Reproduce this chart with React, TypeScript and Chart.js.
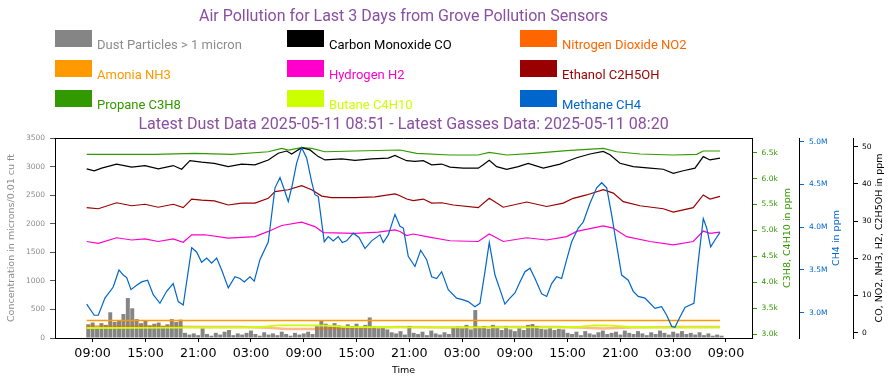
import React, { useEffect, useRef } from "react";
import { Chart, registerables } from "chart.js";

Chart.register(...registerables);

// ---------- tick values ----------
const timeTicks = [9, 15, 21, 27, 33, 39, 45, 51, 57, 63, 69, 75, 81]; // hours since 2025-05-08 00:00
const dustTicks = [0, 500, 1000, 1500, 2000, 2500, 3000, 3500];
const propaneTicks = [3000, 3500, 4000, 4500, 5000, 5500, 6000, 6500];
const methaneTicks = [3.0, 3.5, 4.0, 4.5, 5.0];
const ppmTicks = [0, 10, 20, 30, 40, 50];

// ---------- dust (30-minute bars starting 08:30 on day 1) ----------
const dustStartHour = 8.5;
const dustStepHours = 0.5;
const dustValues = [
  240, 270, 200, 260, 230, 450, 280, 310, 420, 700, 520, 330,
  260, 300, 220, 250, 270, 210, 240, 330, 280, 320, 90, 60,
  80, 50, 170, 70, 40, 90, 60, 110, 140, 50, 80, 60,
  90, 130, 70, 40, 100, 60, 80, 50, 110, 70, 40, 90,
  60, 80, 110, 70, 230, 300, 250, 200, 260, 220, 180, 240,
  210, 250, 190, 230, 360, 200, 170, 190, 150, 100, 80, 120,
  60, 210, 90, 70, 110, 50, 130, 80, 60, 100, 70, 180,
  200, 170, 230, 150, 490, 190, 210, 160, 230, 180, 140, 200,
  150, 120, 170, 140, 230, 245, 210, 160, 150, 170, 140, 160,
  150, 90, 70, 110, 50, 120, 80, 60, 100, 130, 70, 90,
  110, 60, 130, 90, 70, 120, 80, 50, 100, 70, 130, 90,
  60, 110, 80, 120, 70, 90, 60, 100, 50, 80, 40, 60,
  40,
];

// ---------- Carbon Monoxide CO (ppm) ----------
const coTimes = [8.32, 9.18, 10.02, 11.73, 13.44, 14.95, 16.46, 18.16, 19.12, 20.06, 21.39, 22.83, 24.42, 25.94, 27.45, 28.97, 30.1, 31.06, 31.62, 32.76, 33.71, 34.65, 35.41, 37.31, 38.82, 40.72, 42.61, 43.37, 43.94, 44.7, 45.64, 46.59, 47.54, 48.68, 49.62, 51.13, 52.84, 53.41, 54.09, 54.93, 56.07, 57.39, 58.52, 60.23, 62.13, 62.89, 64.03, 65.54, 67.05, 67.81, 68.95, 70.46, 72.36, 73.87, 75.01, 76.15, 77.48, 78.42, 79.18, 80.32];
const coValues = [44.0, 43.5, 44.2, 45.3, 44.5, 44.9, 44.0, 44.9, 43.9, 46.2, 45.8, 45.5, 44.6, 45.3, 45.1, 46.4, 48.2, 48.8, 48.0, 49.7, 49.1, 47.3, 46.4, 46.7, 46.3, 46.7, 46.9, 47.6, 47.0, 46.2, 46.0, 46.2, 45.1, 45.3, 44.5, 44.2, 44.2, 45.1, 46.3, 44.6, 43.9, 44.6, 45.5, 44.2, 45.3, 46.0, 47.0, 48.0, 48.7, 47.8, 45.5, 44.6, 44.2, 43.9, 42.8, 43.5, 44.2, 47.3, 46.4, 46.9];

// ---------- Nitrogen Dioxide NO2 (ppm) ----------
const no2Times = [8.32, 14, 19, 22, 26, 29, 31, 34, 37, 41, 44, 50, 56, 62, 65, 67, 70, 75, 80.32];
const no2Values = [1.7, 1.7, 1.6, 1.5, 1.5, 1.3, 1.0, 1.0, 1.2, 1.4, 1.5, 1.4, 1.5, 1.5, 1.3, 1.1, 1.4, 1.5, 1.5];

// ---------- Amonia NH3 (ppm) ----------
const nh3Times = [8.32, 20, 32, 44, 56, 68, 80.32];
const nh3Values = [3.3, 3.3, 3.3, 3.3, 3.3, 3.3, 3.3];

// ---------- Hydrogen H2 (ppm) ----------
const h2Times = [8.32, 9.64, 11.73, 13.44, 14.95, 16.46, 18.16, 19.3, 20.26, 21.77, 24.42, 27.45, 28.97, 30.49, 32.76, 34.27, 35.22, 38.82, 41.48, 43.37, 43.94, 44.7, 45.45, 46.97, 49.62, 52.84, 54.09, 55.68, 58.34, 60.62, 62.89, 64.03, 67.05, 68.19, 69.71, 72.36, 75.01, 77.28, 78.42, 79.18, 80.32];
const h2Values = [24.5, 24.0, 25.5, 24.9, 25.2, 24.5, 25.2, 24.3, 26.3, 26.3, 25.4, 25.8, 27.2, 28.8, 29.7, 28.5, 26.9, 26.7, 27.0, 27.6, 27.2, 26.1, 26.5, 25.8, 24.7, 24.5, 26.5, 24.5, 25.5, 24.9, 25.8, 27.2, 28.7, 28.1, 25.8, 24.5, 23.6, 24.5, 27.3, 26.7, 27.0];

// ---------- Ethanol C2H5OH (ppm) ----------
const ethanolTimes = [8.32, 9.64, 11.73, 13.44, 14.95, 16.46, 18.16, 19.3, 20.26, 21.39, 22.83, 24.42, 25.94, 27.45, 28.97, 29.73, 31.24, 32.76, 33.9, 35.04, 36.17, 38.82, 41.1, 43.37, 43.94, 44.7, 45.45, 46.59, 47.54, 48.68, 50.0, 52.84, 54.09, 55.68, 58.34, 60.62, 62.5, 63.64, 65.16, 67.05, 68.19, 69.32, 71.22, 73.87, 75.01, 77.28, 78.42, 79.18, 80.32];
const ethanolValues = [33.6, 33.3, 34.9, 34.1, 34.5, 33.7, 34.5, 33.6, 35.9, 35.6, 35.4, 34.3, 34.8, 34.8, 36.1, 37.9, 38.4, 39.5, 38.4, 36.7, 36.3, 36.3, 36.5, 37.3, 36.8, 35.9, 35.5, 35.9, 34.8, 34.9, 34.3, 33.6, 36.1, 33.7, 35.1, 33.9, 34.8, 36.1, 37.0, 38.4, 37.5, 35.2, 34.1, 33.3, 32.4, 33.6, 37.0, 35.9, 36.6];

// ---------- Propane C3H8 (ppm) ----------
const propaneTimes = [8.32, 12.3, 16.09, 20.63, 24.8, 28.97, 30.49, 31.24, 32.76, 33.9, 35.41, 38.82, 43.94, 45.83, 49.62, 52.84, 54.09, 56.07, 59.09, 62.89, 67.05, 68.57, 71.22, 75.01, 77.67, 78.42, 80.32];
const propaneValues = [6469, 6469, 6469, 6488, 6469, 6519, 6585, 6552, 6597, 6585, 6519, 6533, 6552, 6488, 6456, 6456, 6508, 6456, 6488, 6539, 6585, 6519, 6475, 6456, 6469, 6533, 6533];

// ---------- Butane C4H10 (ppm) ----------
const butaneTimes = [8.32, 14, 20, 26, 28.5, 30, 33, 35.5, 38, 44, 50, 56, 62, 64.5, 66, 68, 70, 74, 80.32];
const butaneValues = [3116, 3120, 3122, 3125, 3140, 3165, 3168, 3160, 3135, 3129, 3129, 3129, 3129, 3140, 3165, 3162, 3135, 3125, 3129];

// ---------- Methane CH4 (millions of ppm) ----------
const methaneTimes = [
  8.32, 9.18, 9.64, 10.4, 11.34, 11.99, 12.48, 12.87, 13.36, 14.0,
  14.57, 15.25, 15.89, 16.65, 17.41, 18.16, 18.73, 19.3, 20.26, 20.82,
  21.39, 21.96, 22.53, 23.1, 23.67, 24.42, 25.18, 25.75, 26.24, 26.88,
  27.37, 28.02, 28.97, 29.73, 30.3, 30.78, 31.24, 31.69, 32.19, 32.76,
  33.33, 33.9, 34.27, 34.65, 35.33, 35.79, 36.35, 36.92, 37.38, 37.88,
  38.63, 39.28, 39.96, 40.72, 41.66, 42.04, 42.61, 43.37, 43.94, 44.32,
  44.88, 45.64, 46.29, 46.97, 47.54, 48.11, 48.68, 49.43, 50.38, 51.13,
  51.7, 52.46, 53.03, 53.6, 54.09, 54.74, 55.31, 55.87, 56.44, 57.01,
  57.58, 58.15, 58.72, 59.29, 60.05, 60.62, 61.18, 61.75, 62.32, 62.89,
  63.46, 64.21, 64.78, 65.54, 66.3, 66.87, 67.44, 68.01, 68.57, 69.14,
  69.89, 70.46, 71.03, 71.79, 72.36, 72.93, 73.69, 74.26, 74.83, 75.2,
  75.77, 76.34, 76.91, 77.36, 77.85, 78.42, 78.81, 79.26, 79.75, 80.32,
];
const methaneValues = [
  3.1, 2.97, 2.97, 3.17, 3.3, 3.5, 3.44, 3.41, 3.27, 3.32,
  3.36, 3.38, 3.21, 3.11, 3.25, 3.34, 3.13, 3.09, 3.76, 3.71,
  3.59, 3.64, 3.58, 3.64, 3.5, 3.29, 3.42, 3.4, 3.36, 3.42,
  3.37, 3.62, 3.83, 4.46, 4.58, 4.44, 4.3, 4.49, 4.75, 4.93,
  4.81, 4.53, 4.38, 4.36, 3.83, 3.89, 3.84, 3.89, 3.82, 3.84,
  3.93, 3.88, 3.75, 3.84, 3.91, 3.82, 3.91, 4.15, 4.01, 3.99,
  3.66, 3.54, 3.73, 3.62, 3.42, 3.4, 3.48, 3.27, 3.17, 3.15,
  3.13, 3.07, 3.11, 3.48, 3.82, 3.44, 3.27, 3.1, 3.17, 3.23,
  3.36, 3.48, 3.52, 3.4, 3.22, 3.19, 3.34, 3.42, 3.4, 3.62,
  3.83, 3.99, 4.06, 4.28, 4.46, 4.52, 4.46, 4.14, 3.79, 3.44,
  3.38, 3.25, 3.19, 3.17, 3.11, 3.05, 3.07, 2.97, 2.84, 2.83,
  2.95, 3.06, 3.09, 3.11, 3.6, 4.1, 3.99, 3.77, 3.85, 3.94,
];

// ---------- texts ----------
const titleText = "Air Pollution for Last 3 Days from Grove Pollution Sensors";
const subtitleText = "Latest Dust Data 2025-05-11 08:51 - Latest Gasses Data: 2025-05-11 08:20";
const dustAxisTitle = "Concentration in microns/0.01 cu ft";
const propaneAxisTitle = "C3H8, C4H10 in ppm";
const methaneAxisTitle = "CH4 in ppm";
const ppmAxisTitle = "CO, NO2, NH3, H2, C2H5OH in ppm";
const timeAxisTitle = "Time";

// ---------- colours ----------
const C = {
  title: "#8a4fa0",
  dust: "#858585",
  dustText: "#8c8c8c",
  co: "#000000",
  no2: "#ff6600",
  nh3: "#ff9900",
  h2: "#ff00cc",
  ethanol: "#990000",
  propane: "#339900",
  butane: "#ccff00",
  methane: "#0066cc",
};

const pts = (t: number[], v: number[]) => t.map((x, i) => ({ x, y: v[i] }));

const legendItems = [
  { label: "Dust Particles > 1 micron", color: C.dust, text: C.dustText },
  { label: "Carbon Monoxide CO", color: C.co, text: C.co },
  { label: "Nitrogen Dioxide NO2", color: C.no2, text: C.no2 },
  { label: "Amonia NH3", color: C.nh3, text: C.nh3 },
  { label: "Hydrogen H2", color: C.h2, text: C.h2 },
  { label: "Ethanol C2H5OH", color: C.ethanol, text: C.ethanol },
  { label: "Propane C3H8", color: C.propane, text: C.propane },
  { label: "Butane C4H10", color: C.butane, text: C.butane },
  { label: "Methane CH4", color: C.methane, text: C.methane },
];

const tickFont = { family: "DejaVu Sans", size: 7.5 };
const axisTitleFont = "9.5px 'DejaVu Sans'";

export default function App() {
  const ref = useRef<HTMLCanvasElement | null>(null);

  useEffect(() => {
    const canvas = ref.current;
    if (!canvas) return;

    const dustPoints = dustValues.map((y, i) => ({ x: dustStartHour + i * dustStepHours, y }));

    const line = (label: string, data: any[], color: string, axis: string, width = 1.2) => ({
      type: "line" as const,
      label,
      data,
      borderColor: color,
      backgroundColor: color,
      borderWidth: width,
      pointRadius: 0,
      tension: 0,
      fill: false,
      yAxisID: axis,
      order: 1,
    });

    const legendPlugin = {
      id: "gridLegend",
      afterDraw(chart: any) {
        const ctx = chart.ctx;
        const cols = [55, 287, 520];
        const rows = [30, 60, 90];
        ctx.save();
        ctx.font = "13px Roboto";
        ctx.textBaseline = "alphabetic";
        ctx.textAlign = "left";
        legendItems.forEach((it, i) => {
          const x = cols[i % 3];
          const y = rows[Math.floor(i / 3)];
          ctx.fillStyle = it.color;
          ctx.fillRect(x, y, 37, 17);
          ctx.fillStyle = it.text;
          ctx.fillText(it.label, x + 42, y + 18.5);
        });
        ctx.restore();
      },
    };

    const framePlugin = {
      id: "frameAndTitles",
      afterDraw(chart: any) {
        const ctx = chart.ctx;
        const a = chart.chartArea;
        ctx.save();
        ctx.strokeStyle = "#000";
        ctx.lineWidth = 1;
        ctx.beginPath();
        ctx.moveTo(Math.round(a.left) - 0.5, Math.round(a.top) + 0.5);
        ctx.lineTo(Math.round(a.right) + 0.5, Math.round(a.top) + 0.5);
        ctx.stroke();
        const cy = (a.top + a.bottom) / 2;
        const titles = [
          { id: "yC3", text: propaneAxisTitle, color: C.propane, dx: 35.7 },
          { id: "yCH4", text: methaneAxisTitle, color: C.methane, dx: 37.7 },
          { id: "yPpm", text: ppmAxisTitle, color: "#000", dx: 27 },
        ];
        ctx.font = axisTitleFont;
        ctx.textAlign = "center";
        ctx.textBaseline = "middle";
        titles.forEach((t) => {
          const s = chart.scales[t.id];
          ctx.save();
          ctx.translate(s.left + t.dx, cy);
          ctx.rotate(-Math.PI / 2);
          ctx.fillStyle = t.color;
          ctx.fillText(t.text, 0, 0);
          ctx.restore();
        });
        ctx.restore();
      },
    };

    const setTicks = (vals: number[]) => (s: any) => {
      s.ticks = vals.map((value) => ({ value }));
    };

    const chart = new Chart(canvas, {
      type: "line",
      data: {
        datasets: [
          line("Methane CH4", pts(methaneTimes, methaneValues), C.methane, "yCH4"),
          line("Carbon Monoxide CO", pts(coTimes, coValues), C.co, "yPpm"),
          line("Propane C3H8", pts(propaneTimes, propaneValues), C.propane, "yC3"),
          line("Ethanol C2H5OH", pts(ethanolTimes, ethanolValues), C.ethanol, "yPpm"),
          line("Hydrogen H2", pts(h2Times, h2Values), C.h2, "yPpm"),
          line("Amonia NH3", pts(nh3Times, nh3Values), C.nh3, "yPpm", 1.5),
          line("Butane C4H10", pts(butaneTimes, butaneValues), C.butane, "yC3", 1.8),
          line("Nitrogen Dioxide NO2", pts(no2Times, no2Values), "rgba(255,102,0,0.45)", "yPpm", 2.5),
          {
            type: "bar" as const,
            label: "Dust Particles > 1 micron",
            data: dustPoints,
            backgroundColor: C.dust,
            borderWidth: 0,
            barPercentage: 0.9,
            categoryPercentage: 1,
            yAxisID: "yDust",
            order: 10,
          } as any,
        ] as any,
      },
      options: {
        responsive: false,
        animation: false,
        events: [],
        layout: { padding: 0 },
        plugins: {
          legend: { display: false },
          tooltip: { enabled: false },
          title: {
            display: true,
            text: titleText,
            color: C.title,
            fullSize: false,
            font: { family: "Roboto", size: 16, weight: "normal" },
            padding: { top: 7.4, bottom: 80 },
          },
          subtitle: {
            display: true,
            text: subtitleText,
            color: C.title,
            fullSize: false,
            font: { family: "Roboto", size: 16, weight: "normal" },
            padding: { top: 8.3, bottom: 3.9 },
          },
        },
        scales: {
          x: {
            type: "linear",
            position: "bottom",
            min: 4.72,
            max: 83.96,
            offset: false,
            afterBuildTicks: setTicks(timeTicks),
            afterFit: (s: any) => {
              s.height = 47;
            },
            border: { display: true, color: "#000", width: 1 },
            grid: { offset: false, drawOnChartArea: false, drawTicks: true, tickLength: 4, tickColor: "#000" },
            ticks: {
              autoSkip: false,
              maxRotation: 0,
              padding: 4.4,
              color: "#000",
              font: { family: "DejaVu Sans", size: 12.7 },
              callback: (v: any) => `${String(Number(v) % 24).padStart(2, "0")}:00`,
            },
            title: {
              display: true,
              text: timeAxisTitle,
              color: "#000",
              font: { family: "DejaVu Sans", size: 9.5 },
              padding: { top: 0, bottom: 9 },
            },
          },
          yDust: {
            type: "linear",
            position: "left",
            min: 0,
            max: 3500,
            afterBuildTicks: setTicks(dustTicks),
            afterFit: (s: any) => {
              s.width = 55;
            },
            border: { display: true, color: "#000", width: 1 },
            grid: { drawOnChartArea: false, drawTicks: true, tickLength: 5, tickColor: "#555" },
            ticks: {
              autoSkip: false,
              padding: 5,
              color: "#8c8c8c",
              font: tickFont,
              callback: (v: any) => String(v),
            },
            title: {
              display: true,
              text: dustAxisTitle,
              color: "#8c8c8c",
              font: { family: "DejaVu Sans", size: 9.5 },
              padding: { top: 6.3, bottom: 0 },
            },
          },
          yC3: {
            type: "linear",
            position: "right",
            min: 2923,
            max: 6784,
            afterBuildTicks: setTicks(propaneTicks),
            afterFit: (s: any) => {
              s.width = 47;
            },
            border: { display: true, color: "#000", width: 1 },
            grid: { drawOnChartArea: false, drawTicks: true, tickLength: 5, tickColor: C.propane },
            ticks: {
              autoSkip: false,
              padding: 4.5,
              color: C.propane,
              font: tickFont,
              callback: (v: any) => `${(Number(v) / 1000).toFixed(1)}k`,
            },
          },
          yCH4: {
            type: "linear",
            position: "right",
            min: 2.704,
            max: 5.043,
            afterBuildTicks: setTicks(methaneTicks),
            afterFit: (s: any) => {
              s.width = 54;
            },
            border: { display: true, color: "#000", width: 1 },
            grid: { drawOnChartArea: false, drawTicks: true, tickLength: 5, tickColor: C.methane },
            ticks: {
              autoSkip: false,
              padding: 5,
              color: C.methane,
              font: tickFont,
              callback: (v: any) => `${Number(v).toFixed(1)}M`,
            },
          },
          yPpm: {
            type: "linear",
            position: "right",
            min: -1.43,
            max: 52.3,
            afterBuildTicks: setTicks(ppmTicks),
            afterFit: (s: any) => {
              s.width = 43;
            },
            border: { display: true, color: "#000", width: 1 },
            grid: { drawOnChartArea: false, drawTicks: true, tickLength: 5, tickColor: "#000" },
            ticks: { autoSkip: false, padding: 4, color: "#000", font: tickFont, callback: (v: any) => String(v) },
          },
        },
      } as any,
      plugins: [legendPlugin, framePlugin],
    });

    return () => chart.destroy();
  }, []);

  return (
    <div style={{ position: "fixed", left: 0, top: 0, width: 896, height: 385, background: "#fff" }}>
      <canvas ref={ref} width={896} height={385} style={{ display: "block", width: 896, height: 385 }} />
    </div>
  );
}
